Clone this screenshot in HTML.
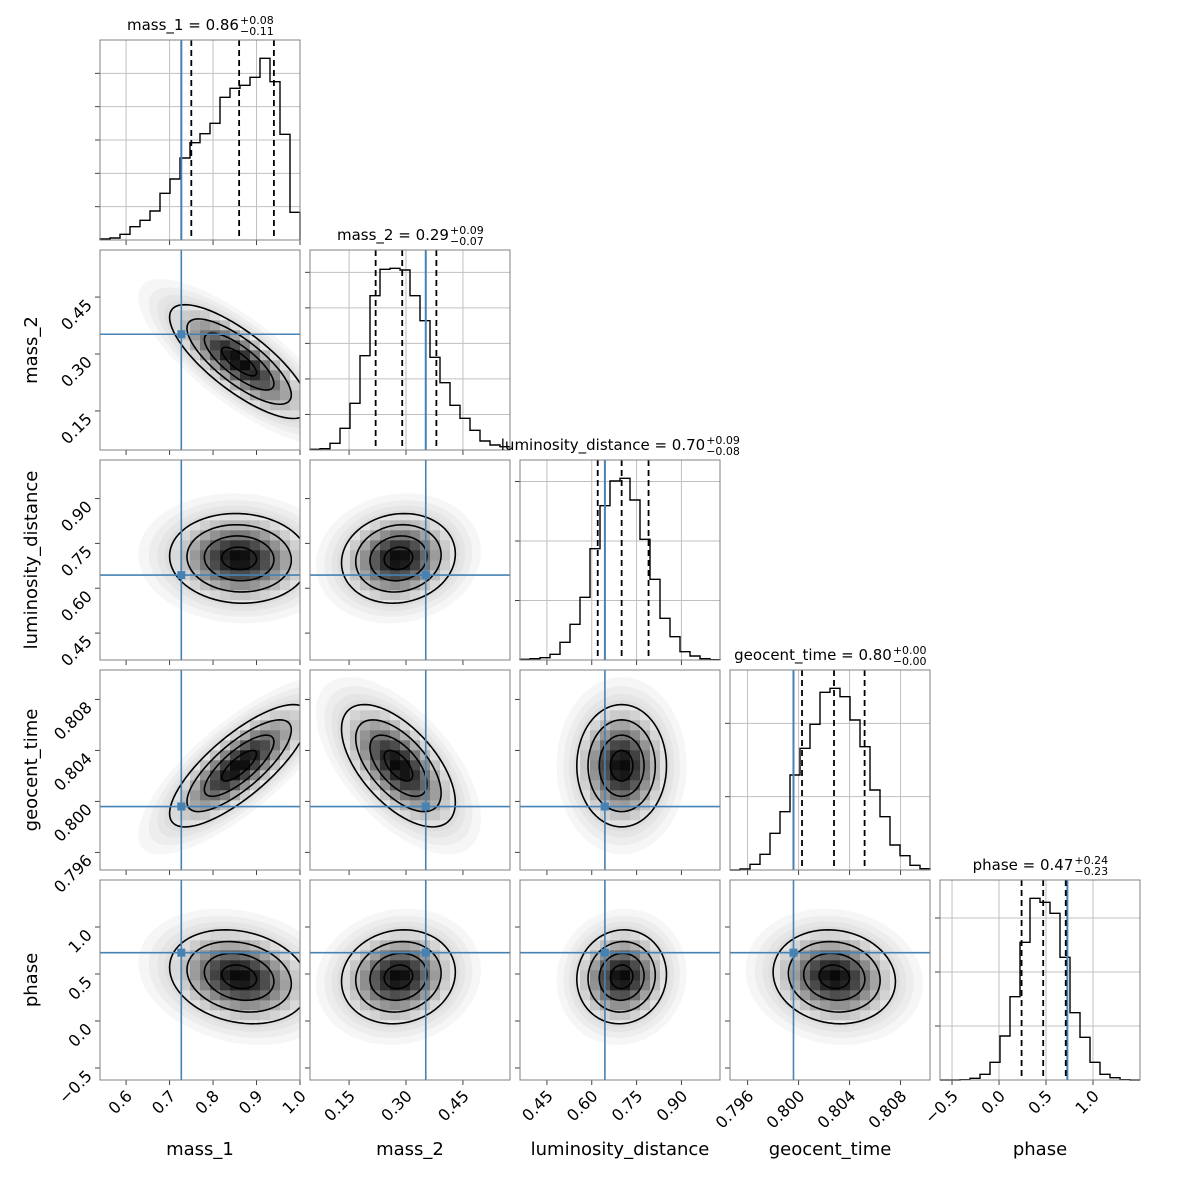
<!DOCTYPE html>
<html><head><meta charset="utf-8"><style>
html,body{margin:0;padding:0;background:#fff}
svg{display:block;font-family:"DejaVu Sans","Liberation Sans",sans-serif}
</style></head><body>
<svg id="chart" width="1180" height="1180" viewBox="0 0 1180 1180"></svg>
<script>
const params = ["mass_1","mass_2","luminosity_distance","geocent_time","phase"];
const axisLo = [0.54, 0.047, 0.36, 0.79462, -0.628];
const axisHi = [1.0, 0.574, 1.029, 0.81031, 1.50];
const tickVals = [[0.6,0.7,0.8,0.9,1.0],[0.15,0.30,0.45],[0.45,0.60,0.75,0.90],[0.796,0.800,0.804,0.808],[-0.5,0.0,0.5,1.0]];
const tickLabels = [["0.6","0.7","0.8","0.9","1.0"],["0.15","0.30","0.45"],["0.45","0.60","0.75","0.90"],["0.796","0.800","0.804","0.808"],["\u22120.5","0.0","0.5","1.0"]];
const truths = [0.727, 0.352, 0.644, 0.7996, 0.727];
const hist_mass_1 = [3,6,17,40,59,87,140,183,246,292,319,350,428,455,464,488,545,475,317,83];
const hist_mass_2 = [2,4,20,65,140,283,463,542,545,540,463,388,278,202,134,95,59,27,15,10];
const hist_lum = [2,4,7,17,53,107,188,334,463,537,545,480,362,242,125,70,25,12,4,1];
const hist_geo = [0,3,17,47,110,175,285,365,437,533,545,520,450,370,240,160,75,43,14,4];
const hist_phase = [0,0,1,5,17,53,132,250,413,545,533,500,368,202,128,53,17,7,1,0];
const hists = [hist_mass_1,hist_mass_2,hist_lum,hist_geo,hist_phase];
const histMax = 600;
const histGridStep = [100,106.6,178.5,220,162];
const quantiles = [[0.75,0.86,0.94],[0.22,0.29,0.38],[0.62,0.70,0.79],[0.80027,0.80278,0.80518],[0.24,0.47,0.71]];
const titleVals = ["0.86","0.29","0.70","0.80","0.47"];
const titlePlus = ["+0.08","+0.09","+0.09","+0.00","+0.24"];
const titleMinus = ["\u22120.11","\u22120.07","\u22120.08","\u22120.00","\u22120.23"];
const means = [0.86, 0.28, 0.70, 0.8028, 0.47];
const sds = [0.08, 0.075, 0.075, 0.0024, 0.25];
const corr = [
 [1,-0.78,-0.05,0.78,-0.2],
 [-0.78,1,0.1,-0.6,0.1],
 [-0.05,0.1,1,0,0.05],
 [0.78,-0.6,0,1,-0.1],
 [-0.2,0.1,0.05,-0.1,1]];

const NS="http://www.w3.org/2000/svg";
const svg=document.getElementById('chart');
const S=200, G=210, X0=100, Y0=40;
const BLUE="#4682b4";
function mk(tag,attrs,parent){const e=document.createElementNS(NS,tag);for(const k in attrs)e.setAttribute(k,attrs[k]);(parent||svg).appendChild(e);return e;}
function px(i,v,c){return X0+G*c+(v-axisLo[i])/(axisHi[i]-axisLo[i])*S;}
function py(j,v,r){return Y0+G*r+S-(v-axisLo[j])/(axisHi[j]-axisLo[j])*S;}
const defs=mk('defs',{});

for(let r=0;r<5;r++){
 for(let c=0;c<=r;c++){
  const x0=X0+G*c, y0=Y0+G*r;
  const g=mk('g',{});
  
  
  const cp=mk('clipPath',{id:'cp'+r+c},defs);
  mk('rect',{x:x0,y:y0,width:S,height:S},cp);
  if(r===c){
   const i=c, h=hists[i];
   for(const t of tickVals[i]){const x=px(i,t,c);if(x>x0+0.5&&x<x0+S)mk('line',{x1:x,x2:x,y1:y0,y2:y0+S,stroke:'#c0c0c0','stroke-width':1},g);}
   for(let k=1;k*histGridStep[i]<histMax;k++){const y=y0+S-k*histGridStep[i]/histMax*S;
     mk('line',{x1:x0,x2:x0+S,y1:y,y2:y,stroke:'#c0c0c0','stroke-width':1},g);
     mk('line',{x1:x0-5,x2:x0,y1:y,y2:y,stroke:'#444','stroke-width':1},g);}
   const bw=S/h.length;
   let d='M'+x0+','+(y0+S);
   h.forEach((v,k)=>{const y=y0+S-v/histMax*S;d+=' L'+(x0+k*bw)+','+y+' L'+(x0+(k+1)*bw)+','+y;});
   d+=' L'+(x0+S)+','+(y0+S);
   const hp=mk('path',{d:d,fill:'none',stroke:'#000','stroke-width':1.4},g);
   
   
   const tx=px(i,truths[i],c);
   const tl=mk('line',{x1:tx,x2:tx,y1:y0,y2:y0+S,stroke:BLUE,'stroke-width':2},g);
   
   
   quantiles[i].forEach(q=>{const x=px(i,q,c);
     const ql=mk('line',{x1:x,x2:x,y1:y0,y2:y0+S,stroke:'#000','stroke-width':1.8,'stroke-dasharray':'6,4'},g);
     
     });
   const cx=x0+S/2, by=y0-10;
   const tt=mk('text',{x:0,y:by,'font-size':15,fill:'#000'},g);
   tt.textContent=params[i]+' = '+titleVals[i];
   
   
   const L=tt.getComputedTextLength(), sw=34;
   const sx=cx-(L+sw)/2;
   tt.setAttribute('x',sx);
   const sp=mk('text',{x:sx+L+1,y:by-6,'font-size':11,fill:'#000'},g);sp.textContent=titlePlus[i];
   
   
   const sb=mk('text',{x:sx+L+1,y:by+5,'font-size':11,fill:'#000'},g);sb.textContent=titleMinus[i];
   
   
  } else {
   const i=c, j=r;
   const inner=mk('g',{'clip-path':'url(#cp'+r+c+')'},g);
   const mx=px(i,means[i],c), my=py(j,means[j],r);
   const sx=sds[i]/(axisHi[i]-axisLo[i])*S, sy=sds[j]/(axisHi[j]-axisLo[j])*S;
   const rho=corr[i][j], q=Math.sqrt(1-rho*rho);
   function ell(R){let d='';for(let k=0;k<=72;k++){const t=k/72*2*Math.PI;
     const ex=mx+R*sx*Math.cos(t), ey=my-R*sy*(rho*Math.cos(t)+q*Math.sin(t));
     d+=(k?' L':'M')+ex.toFixed(2)+','+ey.toFixed(2);}return d+'Z';}
   [2.9,2.6,2.35,2.15].forEach(R=>mk('path',{d:ell(R),fill:'#999','fill-opacity':0.09},inner));
   mk('path',{d:ell(2),fill:'#fff'},inner);
   const ec=mk('clipPath',{id:'ec'+r+c},defs);
   mk('path',{d:ell(2)},ec);
   const cg=mk('g',{'clip-path':'url(#ec'+r+c+')'},inner);
   const nb=20, cw=S/nb;
   for(let a=0;a<nb;a++)for(let b=0;b<nb;b++){
     const vx=axisLo[i]+(a+0.5)/nb*(axisHi[i]-axisLo[i]);
     const vy=axisLo[j]+(b+0.5)/nb*(axisHi[j]-axisLo[j]);
     const zx=(vx-means[i])/sds[i], zy=(vy-means[j])/sds[j];
     const m2=(zx*zx-2*rho*zx*zy+zy*zy)/(1-rho*rho);
     if(m2>5)continue;
     const dd=Math.exp(-0.5*m2);
     const gv=Math.round(255*(1-0.97*Math.pow(dd,1.1)));
     mk('rect',{x:x0+a*cw,y:y0+S-(b+1)*cw,width:cw+0.3,height:cw+0.3,fill:'rgb('+gv+','+gv+','+gv+')'},cg);
   }
   [0.5,1,1.5,2].forEach(R=>{const cpth=mk('path',{d:ell(R),fill:'none',stroke:'#000','stroke-width':1.6},inner);
     
     });
   const tx=px(i,truths[i],c), ty=py(j,truths[j],r);
   mk('line',{x1:tx,x2:tx,y1:y0,y2:y0+S,stroke:BLUE,'stroke-width':1.6},inner);
   mk('line',{x1:x0,x2:x0+S,y1:ty,y2:ty,stroke:BLUE,'stroke-width':1.6},inner);
   const mkr=mk('rect',{x:tx-4,y:ty-4,width:8,height:8,fill:BLUE},inner);
   
   
   for(const t of tickVals[j]){const y=py(j,t,r);if(y>y0&&y<y0+S)mk('line',{x1:x0-5,x2:x0,y1:y,y2:y,stroke:'#444','stroke-width':1},g);}
  }
  for(const t of tickVals[c]){const x=px(c,t,c);if(x>=x0&&x<=x0+S+0.5)mk('line',{x1:x,x2:x,y1:y0+S,y2:y0+S+5,stroke:'#444','stroke-width':1},g);}
  mk('rect',{x:x0,y:y0,width:S,height:S,fill:'none',stroke:'#808080','stroke-width':1},g);
 }
}
for(let c=0;c<5;c++){
 tickVals[c].forEach((t,k)=>{const x=px(c,t,c);
   const tl=mk('text',{x:x+7,y:1097,'font-size':16,'text-anchor':'end',fill:'#000',transform:'rotate(-45 '+(x+7)+' 1097)'});
   tl.textContent=tickLabels[c][k];
   
   });
 const al=mk('text',{x:X0+G*c+S/2,y:1155,'font-size':18,'text-anchor':'middle',fill:'#000'});
 al.textContent=params[c];
 
 
}
for(let r=1;r<5;r++){
 tickVals[r].forEach((t,k)=>{const y=py(r,t,r);
   if(y<Y0+G*r||y>Y0+G*r+S)return;
   const tl=mk('text',{x:93,y:y+9,'font-size':16,'text-anchor':'end',fill:'#000',transform:'rotate(-45 93 '+(y+9)+')'});
   tl.textContent=tickLabels[r][k];
   
   });
 const cy=Y0+G*r+S/2;
 const al=mk('text',{x:37,y:cy,'font-size':18,'text-anchor':'middle',fill:'#000',transform:'rotate(-90 37 '+cy+')'});
 al.textContent=params[r];
 
 
}
</script>
</body></html>
